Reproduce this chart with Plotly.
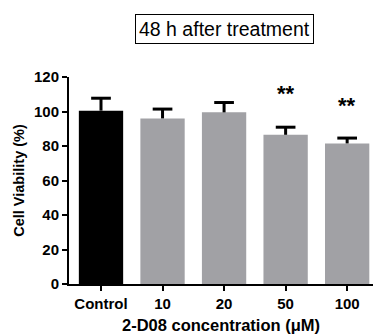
import plotly.graph_objects as go

categories = ["Control", "10", "20", "50", "100"]
viability = [100.5, 96.0, 99.5, 86.5, 81.5]
sd_upper = [7.2, 5.4, 5.7, 4.4, 3.1]
colors = ["#000000", "#a1a1a5", "#a1a1a5", "#a1a1a5", "#a1a1a5"]
star_labels = ["", "", "", "**", "**"]
star_y = [None, None, None, 110.5, 103.5]
y_ticks = [0, 20, 40, 60, 80, 100, 120]

FONT = "Liberation Sans, Arial, sans-serif"
xpos = list(range(len(categories)))
CAP = 0.16  # half cap width in category units

# upward-only error bars (stem + top cap) built from the data
ex, ey = [], []
for i, (v, e) in enumerate(zip(viability, sd_upper)):
    ex += [i, i, None, i - CAP, i + CAP, None]
    ey += [v, v + e, None, v + e, v + e, None]

fig = go.Figure()
fig.add_trace(go.Bar(
    x=xpos, y=viability,
    marker=dict(color=colors, line=dict(width=0)),
    width=0.72,
    showlegend=False,
))
fig.add_trace(go.Scatter(
    x=ex, y=ey, mode="lines",
    line=dict(color="#000000", width=3),
    showlegend=False, hoverinfo="skip",
))

for i, (s, yv) in enumerate(zip(star_labels, star_y)):
    if s:
        fig.add_annotation(x=i, y=yv, text="<b>" + s + "</b>", showarrow=False,
                           font=dict(family=FONT, size=22, color="#000"),
                           xanchor="center", yanchor="middle")

fig.add_annotation(xref="paper", yref="paper", x=0.513, y=1.232,
                   text="48 h after treatment", showarrow=False,
                   font=dict(family=FONT, size=19.5, color="#000"),
                   bordercolor="#000", borderwidth=1, borderpad=3,
                   bgcolor="#fff", xanchor="center", yanchor="middle")

fig.update_layout(
    width=378, height=336,
    margin=dict(l=69, r=5, t=77, b=52),
    paper_bgcolor="#fff", plot_bgcolor="#fff",
    font=dict(family=FONT, color="#000"),
)
fig.update_xaxes(
    range=[-0.52, 4.42],
    tickmode="array", tickvals=xpos,
    ticktext=["<b>" + c + "</b>" for c in categories],
    tickfont=dict(family=FONT, size=15, color="#000"),
    showline=True, linecolor="#000", linewidth=2,
    ticks="outside", ticklen=5, tickwidth=2, tickcolor="#000",
    showgrid=False, zeroline=False,
    title=dict(text="<b>2-D08 concentration (μM)</b>",
               font=dict(family=FONT, size=16.5, color="#000"), standoff=8),
)
fig.update_yaxes(
    range=[0, 120],
    tickmode="array", tickvals=y_ticks,
    ticktext=["<b>%d</b>" % t for t in y_ticks],
    tickfont=dict(family=FONT, size=15, color="#000"),
    showline=True, linecolor="#000", linewidth=2,
    ticks="outside", ticklen=5, tickwidth=2, tickcolor="#000",
    showgrid=False, zeroline=False,
    title=dict(text="<b>Cell Viability (%)</b>",
               font=dict(family=FONT, size=14.5, color="#000"), standoff=6),
)

fig.write_html("out.html", config={"displayModeBar": False},
               post_script="document.body.style.margin='0';")
